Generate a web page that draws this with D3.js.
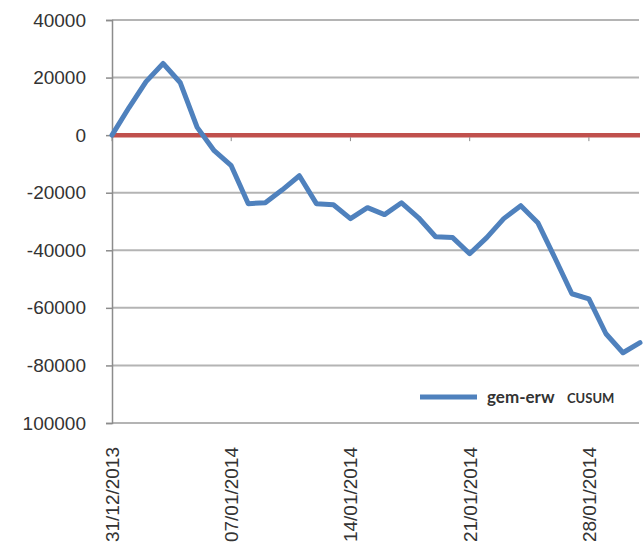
<!DOCTYPE html>
<html>
<head>
<meta charset="utf-8">
<script src="https://cdn.jsdelivr.net/npm/d3@7"></script>
<style>
  html, body { margin: 0; padding: 0; background: #fff; }
  svg { display: block; }
</style>
</head>
<body>
<svg id="chart" width="644" height="557"></svg>
<script>
// ---- data ----
const dates = [
  "31/12/2013","01/01/2014","02/01/2014","03/01/2014","04/01/2014","05/01/2014","06/01/2014",
  "07/01/2014","08/01/2014","09/01/2014","10/01/2014","11/01/2014","12/01/2014","13/01/2014",
  "14/01/2014","15/01/2014","16/01/2014","17/01/2014","18/01/2014","19/01/2014","20/01/2014",
  "21/01/2014","22/01/2014","23/01/2014","24/01/2014","25/01/2014","26/01/2014","27/01/2014",
  "28/01/2014","29/01/2014","30/01/2014","31/01/2014"
];
const cusum = [
  0, 9600, 18600, 24900, 18300, 2700, -5400,
  -10600, -23800, -23500, -19000, -14100, -23800, -24200,
  -29000, -25200, -27600, -23500, -28700, -35300, -35600,
  -41200, -35600, -29000, -24500, -30400, -42600, -55100,
  -56900, -69000, -75600, -72100
];
const baseline = dates.map(() => 0);
const yTickValues = [40000, 20000, 0, -20000, -40000, -60000, -80000, -100000];
const yTickLabels = ["40000", "20000", "0", "-20000", "-40000", "-60000", "-80000", "100000"];
const xLabelDates = ["31/12/2013", "07/01/2014", "14/01/2014", "21/01/2014", "28/01/2014"];
const seriesName = "gem-erw";
const seriesSuffix = "CUSUM";

// ---- drawing ----
const svg = d3.select("#chart");
const x = d3.scalePoint().domain(dates).range([112, 640]);
const y = d3.scaleLinear().domain([-100000, 40000]).range([423, 20]);

// gridlines
svg.append("g").selectAll("line").data(yTickValues).join("line")
  .attr("x1", 112).attr("x2", 639)
  .attr("y1", d => y(d)).attr("y2", d => y(d))
  .attr("stroke", "#b4b4b4").attr("stroke-width", 2);

// y axis
const yAxis = d3.axisLeft(y).tickValues(yTickValues).tickSize(6).tickPadding(20)
  .tickFormat((d, i) => yTickLabels[i]);
const gy = svg.append("g").attr("transform", "translate(112,0)").call(yAxis);
gy.select(".domain").attr("stroke", "#8c8c8c").attr("stroke-width", 1.5);
gy.selectAll(".tick line").attr("stroke", "#8c8c8c").attr("stroke-width", 1.5);
gy.selectAll(".tick text")
  .attr("font-family", "'Liberation Sans', Arial, sans-serif")
  .attr("font-size", 19).attr("fill", "#333");

// zero (red) line
svg.append("path").datum(baseline)
  .attr("fill", "none").attr("stroke", "#c0504d").attr("stroke-width", 4.5)
  .attr("d", d3.line().x((d, i) => x(dates[i])).y(d => y(d)));

// x ticks at zero line
svg.append("g").selectAll("line").data(xLabelDates).join("line")
  .attr("x1", d => x(d)).attr("x2", d => x(d))
  .attr("y1", y(0) + 2).attr("y2", y(0) + 6)
  .attr("stroke", "#8c8c8c").attr("stroke-width", 1);

// x labels
svg.append("g").selectAll("text").data(xLabelDates).join("text")
  .attr("transform", d => `translate(${x(d)},447) rotate(-90)`)
  .attr("text-anchor", "end").attr("dy", "0.36em")
  .attr("font-family", "'Liberation Sans', Arial, sans-serif")
  .attr("font-size", 19).attr("fill", "#333")
  .text(d => d);

// CUSUM line
svg.append("path").datum(cusum)
  .attr("fill", "none").attr("stroke", "#4f81bd").attr("stroke-width", 5)
  .attr("stroke-linejoin", "round").attr("stroke-linecap", "round")
  .attr("d", d3.line().x((d, i) => x(dates[i])).y(d => y(d)));

// legend
const lg = svg.append("g");
lg.append("line").attr("x1", 420).attr("x2", 477).attr("y1", 397).attr("y2", 397)
  .attr("stroke", "#4f81bd").attr("stroke-width", 5);
lg.append("text").attr("x", 487).attr("y", 403)
  .attr("font-family", "Lato, 'Open Sans', sans-serif").attr("font-weight", "bold")
  .attr("font-size", 17).attr("fill", "#333").text(seriesName);
lg.append("text").attr("x", 567).attr("y", 403)
  .attr("font-family", "Lato, 'Open Sans', sans-serif").attr("font-weight", "bold")
  .attr("font-size", 13).attr("fill", "#333").text(seriesSuffix);
</script>
</body>
</html>
